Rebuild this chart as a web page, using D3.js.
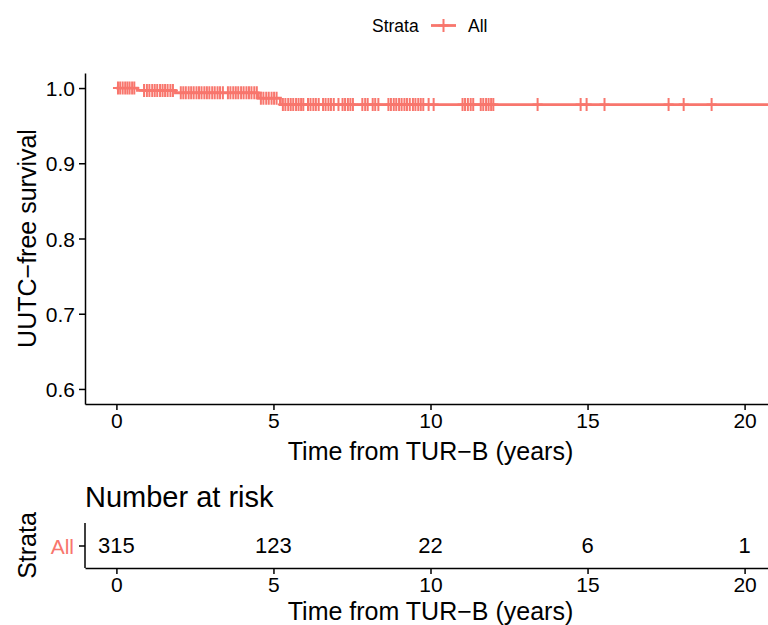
<!DOCTYPE html>
<html>
<head>
<meta charset="utf-8">
<script src="https://cdn.jsdelivr.net/npm/d3@7.9.0/dist/d3.min.js"></script>
<style>
  body { margin: 0; background: #fff; }
  svg { display: block; font-family: "Liberation Sans", Arial, sans-serif; }
  .axis text { font-size: 21px; fill: #000; font-family: "Liberation Sans", Arial, sans-serif; }
  .axis path, .axis line { stroke: #000; stroke-width: 1.5px; }
</style>
</head>
<body>
<div id="chart"></div>
<script>
// survival curve: event times and survival right after each event
const eventTimes = [0, 0.67, 1.88, 4.52, 5.22];
const survivalAfter = [1.0, 0.9968, 0.9936, 0.9865, 0.978];
const lastTime = 21.5;

// censored observations (years), read from the "+" marks
const censorTimes = [
  0.05, 0.12, 0.2, 0.28, 0.35, 0.42, 0.5, 0.57,
  0.88, 0.97, 1.05, 1.14, 1.22, 1.3, 1.39, 1.47, 1.55, 1.63, 1.72, 1.8,
  2.05, 2.13, 2.21, 2.3, 2.38, 2.46, 2.55, 2.63, 2.71, 2.8, 2.88, 2.96, 3.05, 3.13, 3.22, 3.3, 3.39,
  3.55, 3.63, 3.72, 3.8, 3.88, 3.97, 4.05, 4.14, 4.22, 4.3, 4.39, 4.47,
  4.6, 4.68, 4.77, 4.85, 4.94, 5.02, 5.1,
  5.3, 5.38, 5.47, 5.55, 5.63, 5.72, 5.8, 5.88, 5.95,
  6.1, 6.18, 6.27, 6.35, 6.44,
  6.58, 6.66, 6.75, 6.83, 6.92,
  7.07,
  7.2, 7.28, 7.37, 7.45, 7.53,
  7.83, 7.92, 8.0,
  8.16, 8.24, 8.34,
  8.66, 8.74, 8.83, 8.91, 9.0, 9.08, 9.17, 9.25, 9.34,
  9.44, 9.52, 9.61, 9.69, 9.77,
  9.94, 10.1,
  11.02, 11.1, 11.19, 11.28, 11.36,
  11.6, 11.68, 11.77, 11.85, 11.93, 12.0,
  13.41, 14.78, 14.97, 15.54, 17.58, 18.06, 18.95
];

// number at risk table
const riskTimes = [0, 5, 10, 15, 20];
const riskCounts = [315, 123, 22, 6, 1];

const xTicks = [0, 5, 10, 15, 20];
const yTicks = [0.6, 0.7, 0.8, 0.9, 1.0];
const strataName = "All";
const color = "#F8766D";

const width = 768, height = 625;

const svg = d3.select("#chart").append("svg")
  .attr("width", width)
  .attr("height", height);

// main panel
const panel = { left: 85, right: 776, top: 73, bottom: 404 };

const x = d3.scaleLinear().domain([-1, 21]).range([panel.left, panel.right]);
const y = d3.scaleLinear().domain([0.58, 1.02]).range([panel.bottom, panel.top]);

svg.append("defs").append("clipPath").attr("id", "clip")
  .append("rect")
  .attr("x", panel.left).attr("y", panel.top - 10)
  .attr("width", panel.right - panel.left).attr("height", panel.bottom - panel.top + 10);

svg.append("g").attr("class", "axis")
  .attr("transform", `translate(0,${panel.bottom})`)
  .call(d3.axisBottom(x).tickValues(xTicks).tickSizeInner(6).tickSizeOuter(0).tickPadding(3));

const yAxis = svg.append("g").attr("class", "axis")
  .attr("transform", `translate(${panel.left},0)`)
  .call(d3.axisLeft(y).tickValues(yTicks).tickFormat(d3.format(".1f")).tickSizeInner(6).tickSizeOuter(0).tickPadding(4));
yAxis.selectAll("text").attr("dy", "0.36em");

// step curve
const stepData = eventTimes.map((t, i) => ({ t, s: survivalAfter[i] }));
stepData.push({ t: lastTime, s: survivalAfter[survivalAfter.length - 1] });

const line = d3.line()
  .x(d => x(d.t))
  .y(d => y(d.s))
  .curve(d3.curveStepAfter);

const curve = svg.append("g").attr("clip-path", "url(#clip)");
curve.append("path")
  .datum(stepData)
  .attr("fill", "none")
  .attr("stroke", color)
  .attr("stroke-width", 2.8)
  .attr("d", line);

function survivalAt(t) {
  let s = 1;
  eventTimes.forEach((et, i) => { if (et <= t) s = survivalAfter[i]; });
  return s;
}

curve.selectAll(".censor")
  .data(censorTimes)
  .join("path")
  .attr("class", "censor")
  .attr("transform", d => `translate(${x(d)},${y(survivalAt(d))})`)
  .attr("d", "M-5,0H5M0,-6.5V6.5")
  .attr("stroke", color)
  .attr("stroke-width", 2)
  .attr("fill", "none");

// axis titles
svg.append("text")
  .attr("x", (panel.left + panel.right) / 2)
  .attr("y", 460)
  .attr("text-anchor", "middle")
  .style("font-size", "25px")
  .text("Time from TUR\u2212B (years)");

svg.append("text")
  .attr("transform", `translate(36,${(panel.top + panel.bottom) / 2}) rotate(-90)`)
  .attr("text-anchor", "middle")
  .style("font-size", "25px")
  .text("UUTC\u2212free survival");

// legend
const legend = svg.append("g");
legend.append("text").attr("x", 372).attr("y", 31.5)
  .style("font-size", "17.5px").text("Strata");
legend.append("line")
  .attr("x1", 431).attr("x2", 456).attr("y1", 25.5).attr("y2", 25.5)
  .attr("stroke", color).attr("stroke-width", 2.8);
legend.append("path")
  .attr("transform", "translate(443.5,25.5)")
  .attr("d", "M-5,0H5M0,-6.5V6.5")
  .attr("stroke", color).attr("stroke-width", 2);
legend.append("text").attr("x", 468).attr("y", 31.5)
  .style("font-size", "17.5px").text(strataName);

// risk table
const tpanel = { top: 523, bottom: 568 };

svg.append("text")
  .attr("x", 85).attr("y", 507)
  .style("font-size", "29px")
  .text("Number at risk");

const yRisk = d3.scalePoint().domain([strataName]).range([tpanel.bottom, tpanel.top]).padding(0.5);

svg.append("g").attr("class", "axis")
  .attr("transform", `translate(0,${tpanel.bottom})`)
  .call(d3.axisBottom(x).tickValues(xTicks).tickSizeInner(6).tickSizeOuter(0).tickPadding(3));

const yRiskAxis = svg.append("g").attr("class", "axis")
  .attr("transform", `translate(${panel.left},0)`)
  .call(d3.axisLeft(yRisk).tickSizeInner(6).tickSizeOuter(0).tickPadding(5));
yRiskAxis.selectAll("text").style("fill", color).style("font-size", "21px").attr("dy", "0.36em");
yRiskAxis.select(".domain").attr("d", `M0,${tpanel.top}V${tpanel.bottom}`);

svg.append("g").selectAll("text")
  .data(riskTimes)
  .join("text")
  .attr("x", d => x(d))
  .attr("y", yRisk(strataName))
  .attr("dy", "0.36em")
  .attr("text-anchor", "middle")
  .style("font-size", "22px")
  .text((d, i) => riskCounts[i]);

svg.append("text")
  .attr("transform", `translate(36,${(tpanel.top + tpanel.bottom) / 2}) rotate(-90)`)
  .attr("text-anchor", "middle")
  .style("font-size", "25px")
  .text("Strata");

svg.append("text")
  .attr("x", (panel.left + panel.right) / 2)
  .attr("y", 620)
  .attr("text-anchor", "middle")
  .style("font-size", "25px")
  .text("Time from TUR\u2212B (years)");
</script>
</body>
</html>
